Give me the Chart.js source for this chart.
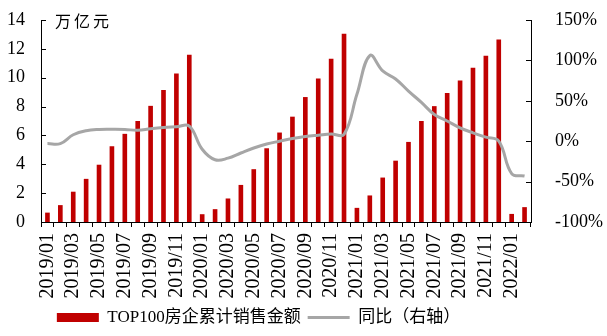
<!DOCTYPE html>
<html>
<head>
<meta charset="utf-8">
<script src="https://cdn.jsdelivr.net/npm/chart.js@4"></script>
<style>
    html, body { margin: 0; padding: 0; background: #fff; }
    #wrap { width: 607px; height: 336px; }
</style>
</head>
<body>
<div id="wrap"><canvas id="chart"></canvas></div>
<script>
const months = [
    "2019/01", "2019/02", "2019/03", "2019/04", "2019/05", "2019/06",
    "2019/07", "2019/08", "2019/09", "2019/10", "2019/11", "2019/12",
    "2020/01", "2020/02", "2020/03", "2020/04", "2020/05", "2020/06",
    "2020/07", "2020/08", "2020/09", "2020/10", "2020/11", "2020/12",
    "2021/01", "2021/02", "2021/03", "2021/04", "2021/05", "2021/06",
    "2021/07", "2021/08", "2021/09", "2021/10", "2021/11", "2021/12",
    "2022/01", "2022/02"
];

// 万亿元
const salesTotal = [
    0.65, 1.17, 2.1, 2.99, 3.97, 5.25, 6.11, 7.0, 8.05, 9.15, 10.29, 11.6,
    0.54, 0.89, 1.63, 2.57, 3.66, 5.11, 6.2, 7.3, 8.66, 9.94, 11.32, 13.04,
    0.98, 1.84, 3.08, 4.25, 5.55, 7.0, 8.03, 8.94, 9.8, 10.69, 11.53, 12.65,
    0.56, 1.03
];

// %
const yoy = [
    -3, -3, 8, 13, 14.6, 14.8, 14.6, 13.5, 15.5, 17, 17.8, 18.7,
    -10, -23, -21, -14.6, -8.4, -3.4, 0, 3.3, 5.8, 7.5, 9, 8.5,
    58, 106, 87, 77, 62, 48, 33, 25, 16.6, 10.4, 5, 0,
    -40, -43
];

const leftTicks = [0, 2, 4, 6, 8, 10, 12, 14];
const rightTicks = [-100, -50, 0, 50, 100, 150];

const serif = "'Liberation Serif', 'Times New Roman', 'Noto Sans CJK SC', serif";

const innerTicks = {
    id: "innerTicks",
    afterLayout(chart) {
        // legend sits left of centre in the original
        chart.legend.left -= 45;
        chart.legend.right -= 45;
    },
    afterDraw(chart) {
        const ctx = chart.ctx;
        const area = chart.chartArea;
        const y = chart.scales.y;
        const y1 = chart.scales.y1;
        ctx.save();
        ctx.strokeStyle = "#000";
        ctx.lineWidth = 1;
        ctx.beginPath();
        leftTicks.forEach(v => {
            const p = Math.round(y.getPixelForValue(v)) + 0.5;
            ctx.moveTo(area.left, p);
            ctx.lineTo(area.left + 5, p);
        });
        rightTicks.forEach(v => {
            const p = Math.round(y1.getPixelForValue(v)) + 0.5;
            ctx.moveTo(area.right, p);
            ctx.lineTo(area.right - 5, p);
        });
        ctx.stroke();

        // unit label
        ctx.fillStyle = "#000";
        ctx.font = "16px 'Noto Sans CJK SC', serif";
        ctx.letterSpacing = "3px";
        ctx.textBaseline = "middle";
        ctx.fillText("万亿元", area.left + 14, area.top + 1);
        ctx.restore();
    }
};

function fixWidth(w) {
    return scale => {
        scale.width = w;
        scale.paddingTop = 0;
        scale.paddingBottom = 0;
    };
}

new Chart(document.getElementById("chart"), {
    data: {
        labels: months,
        datasets: [
            {
                type: "line",
                label: "同比（右轴）",
                data: yoy,
                yAxisID: "y1",
                borderColor: "#a6a6a6",
                backgroundColor: "#a6a6a6",
                borderWidth: 3,
                pointRadius: 0,
                tension: 0.4,
                order: 0
            },
            {
                type: "bar",
                label: "TOP100房企累计销售金额",
                data: salesTotal,
                yAxisID: "y",
                backgroundColor: "#c00000",
                barPercentage: 0.36,
                categoryPercentage: 1,
                order: 1
            }
        ]
    },
    options: {
        responsive: true,
        maintainAspectRatio: false,
        animation: false,
        layout: {
            padding: { top: 20, left: 0, right: 0, bottom: 0 }
        },
        plugins: {
            legend: {
                position: "bottom",
                labels: {
                    color: "#000",
                    font: { family: serif, size: 17 },
                    usePointStyle: true,
                    pointStyleWidth: 42,
                    boxHeight: 9,
                    padding: 7,
                    generateLabels(chart) {
                        const ds = chart.data.datasets;
                        return [
                            {
                                text: ds[1].label,
                                fillStyle: "#c00000",
                                strokeStyle: "#c00000",
                                lineWidth: 0,
                                pointStyle: "rect",
                                datasetIndex: 1
                            },
                            {
                                text: ds[0].label,
                                fillStyle: "#a6a6a6",
                                strokeStyle: "#a6a6a6",
                                lineWidth: 3,
                                pointStyle: "line",
                                datasetIndex: 0
                            }
                        ];
                    }
                }
            },
            tooltip: { enabled: false }
        },
        scales: {
            x: {
                offset: true,
                afterFit(scale) { scale.height = 80; },
                border: { color: "#000", width: 1 },
                grid: {
                    offset: true,
                    drawOnChartArea: false,
                    drawTicks: true,
                    tickLength: 5,
                    color: "#000"
                },
                ticks: {
                    autoSkip: false,
                    minRotation: 90,
                    maxRotation: 90,
                    padding: 6,
                    color: "#000",
                    font: { family: serif, size: 20 },
                    callback(v, i) { return i % 2 === 0 ? months[i] : ""; }
                }
            },
            y: {
                position: "left",
                min: 0,
                max: 14,
                afterFit: fixWidth(41),
                afterBuildTicks(scale) { scale.ticks = leftTicks.map(v => ({ value: v })); },
                border: { color: "#000", width: 1 },
                grid: { display: false },
                ticks: {
                    padding: 8,
                    color: "#000",
                    font: { family: serif, size: 18 }
                }
            },
            y1: {
                position: "right",
                min: -100,
                max: 150,
                afterFit: fixWidth(76),
                afterBuildTicks(scale) { scale.ticks = rightTicks.map(v => ({ value: v })); },
                border: { color: "#000", width: 1 },
                grid: { display: false },
                ticks: {
                    padding: 16,
                    color: "#000",
                    font: { family: serif, size: 18 },
                    callback(v) { return v + "%"; }
                }
            }
        }
    },
    plugins: [innerTicks]
});
</script>
</body>
</html>
